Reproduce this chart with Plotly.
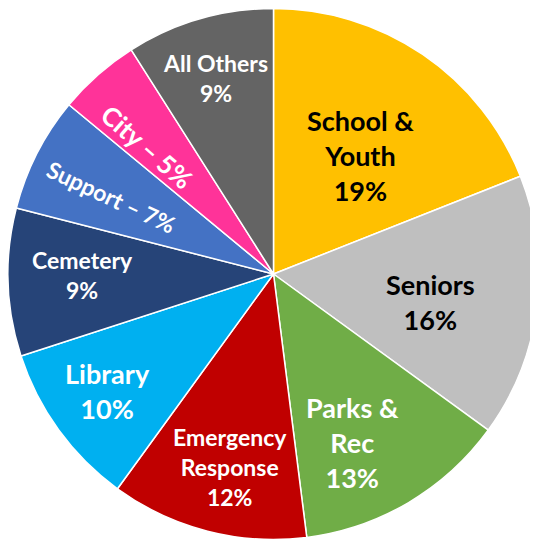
import math
import plotly.graph_objects as go

# Data
categories = ["School &<br>Youth", "Seniors", "Parks &<br>Rec", "Emergency<br>Response",
              "Library", "Cemetery", "Support", "City", "All Others"]
values = [19, 16, 13, 12, 10, 9, 7, 5, 9]

# Styles
colors = ["#FFC000", "#BFBFBF", "#70AD47", "#C00000", "#00B0F0",
          "#264478", "#4472C4", "#FF3399", "#646464"]
font_colors = ["black", "black", "white", "white", "white", "white", "white", "white", "white"]
font_sizes = [27, 27, 27, 23, 27, 23, 23, 26, 23]
label_radius = [0.555, 0.60, 0.70, 0.745, 0.767, 0.72, 0.675, 0.675, 0.77]
angle_offset_deg = [2.0, 3.0, 5.6, -1.8, 0.8, 1.6, -1.5, -3.3, -0.3]
inline_style = [False, False, False, False, False, False, True, True, False]
text_angles = [0, 0, 0, 0, 0, 0, 25, 41, 0]

# Figure size (page has an 8px body margin)
W, H = 531, 532
R = min(W, H) / 2
cx, cy = W / 2, H / 2

fig = go.Figure(go.Pie(
    labels=categories,
    values=values,
    sort=False,
    direction="clockwise",
    rotation=0,
    marker=dict(colors=colors, line=dict(color="white", width=1.5)),
    textinfo="none",
    hoverinfo="skip",
    showlegend=False,
    domain=dict(x=[0, 1], y=[0, 1]),
))

total = sum(values)
cum = 0
annotations = []
for i, v in enumerate(values):
    mid = (cum + v / 2) / total * 2 * math.pi + math.radians(angle_offset_deg[i])
    cum += v
    r = label_radius[i] * R
    px = cx + r * math.sin(mid)
    py = cy + r * math.cos(mid)
    pct = f"{round(v / total * 100)}%"
    if inline_style[i]:
        txt = f"{categories[i]} – {pct}"
    else:
        txt = f"{categories[i]}<br>{pct}"
    annotations.append(dict(
        x=px / W, y=py / H, xref="paper", yref="paper",
        text=txt, showarrow=False, textangle=text_angles[i],
        font=dict(family="Lato", size=font_sizes[i], color=font_colors[i], weight="bold"),
        align="center", xanchor="center", yanchor="middle",
    ))

fig.update_layout(
    width=W, height=H,
    margin=dict(l=0, r=0, t=0, b=0),
    paper_bgcolor="white", plot_bgcolor="white",
    annotations=annotations,
)

fig.write_html("out.html")
